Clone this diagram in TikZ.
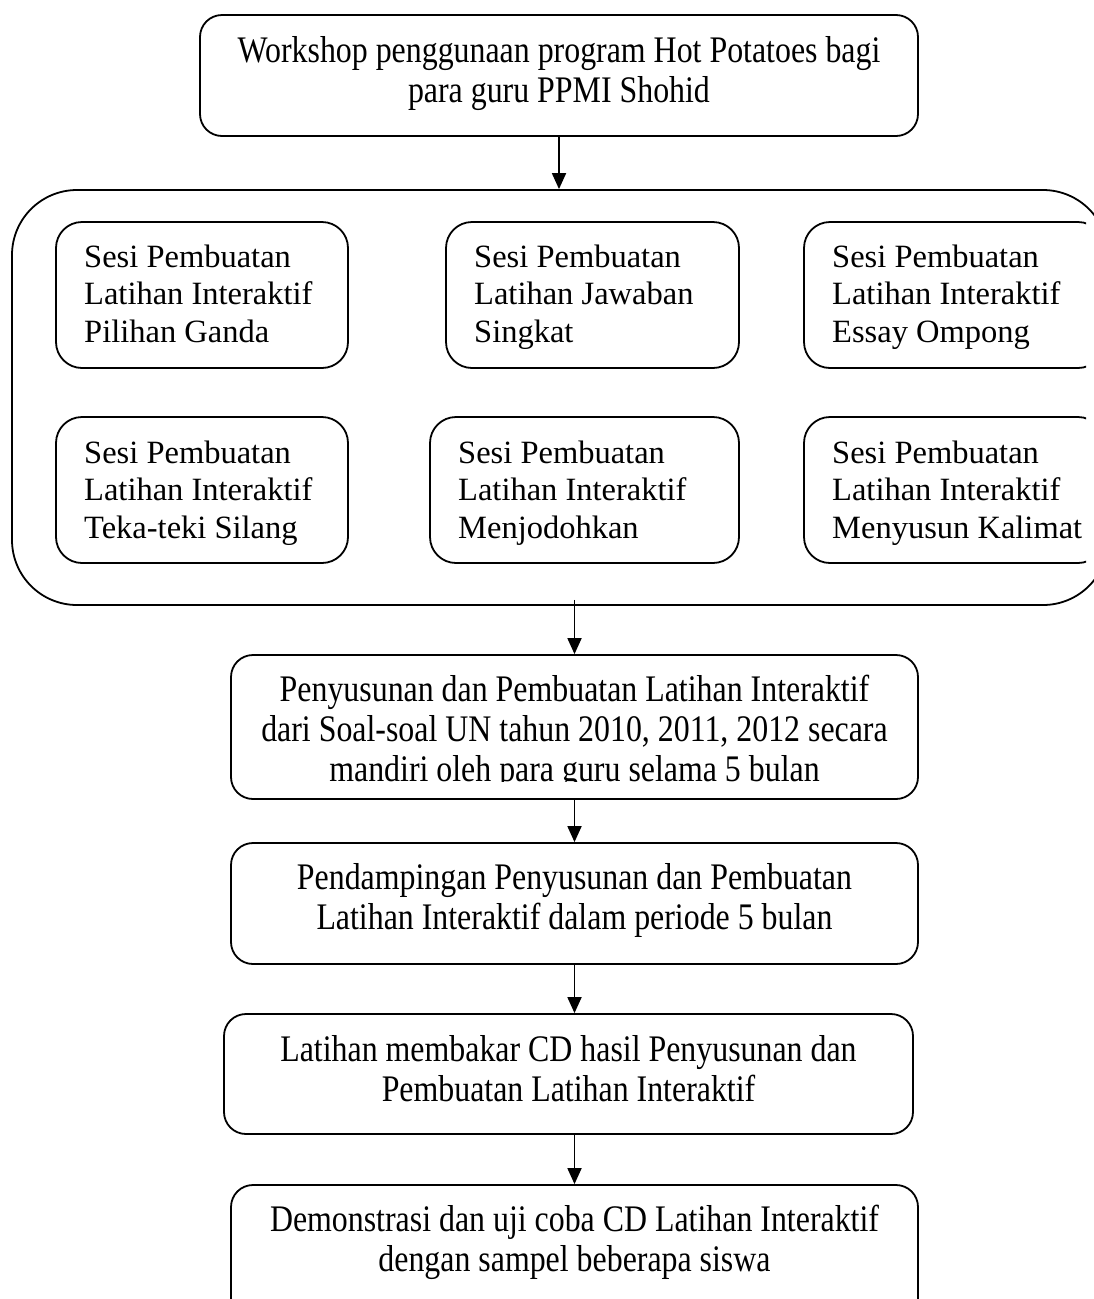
\documentclass[tikz,border=0pt]{standalone}
\usepackage{fontspec}
\setmainfont{Liberation Serif}
\newfontfamily\outerfont[FakeStretch=0.85]{Liberation Serif}
\usetikzlibrary{arrows.meta,calc}
\tikzset{
  stepbox/.style={draw, line width=1.8pt, rounded corners=22pt, inner sep=0pt},
  subbox/.style={draw, line width=1.8pt, rounded corners=26pt, inner sep=0pt},
  groupbox/.style={draw, line width=1.8pt, rounded corners=65pt, inner sep=0pt},
  steptext/.style={anchor=north, inner sep=0pt, align=center, font=\outerfont\fontsize{37.5}{40}\selectfont},
  subtext/.style={anchor=north west, inner sep=0pt, align=left, font=\fontsize{32.5}{37.5}\selectfont},
  flow/.style={line width=1.8pt, -{Triangle[width=14pt,length=16pt]}}
}
\begin{document}
\begin{tikzpicture}[x=1pt,y=-1pt]
\useasboundingbox (0,0) rectangle (1094,1299);
\clip (0,0) rectangle (1094,1299);

% top box
\node[stepbox, minimum width=718pt, minimum height=121pt] (b1) at (559,75.5) {};
\node[steptext] (t1) at (559,34) {\strut Workshop penggunaan program Hot Potatoes bagi\\para guru PPMI Shohid};

% group container
\node[groupbox, minimum width=1096pt, minimum height=415pt] (grp) at (560,397.5) {};

% inner boxes
\node[subbox, minimum width=292pt, minimum height=146pt] (sA) at (202,295) {};
\node[subbox, minimum width=293pt, minimum height=146pt] (sB) at (592.5,295) {};
\node[subbox, minimum width=292pt, minimum height=146pt] (sD) at (202,490) {};
\node[subbox, minimum width=309pt, minimum height=146pt] (sE) at (584.5,490) {};
\begin{scope}
  \clip (0,0) rectangle (1086,1299);
  \node[subbox, minimum width=300pt, minimum height=146pt] (sC) at (954,295) {};
  \node[subbox, minimum width=300pt, minimum height=146pt] (sF) at (954,490) {};
\end{scope}

\node[subtext] (tA) at (84,240.75) {\strut Sesi Pembuatan\\Latihan Interaktif\\Pilihan Ganda};
\node[subtext] (tB) at (474,240.75) {\strut Sesi Pembuatan\\Latihan Jawaban\\Singkat};
\node[subtext] (tC) at (832,240.75) {\strut Sesi Pembuatan\\Latihan Interaktif\\Essay Ompong};
\node[subtext] (tD) at (84,436.75) {\strut Sesi Pembuatan\\Latihan Interaktif\\Teka-teki Silang};
\node[subtext] (tE) at (458,436.75) {\strut Sesi Pembuatan\\Latihan Interaktif\\Menjodohkan};
\node[subtext] (tF) at (832,436.75) {\strut Sesi Pembuatan\\Latihan Interaktif\\Menyusun Kalimat};

% step 3
\node[stepbox, minimum width=687pt, minimum height=144pt] (b3) at (574.5,727) {};
\begin{scope}
  \clip (231,655) rectangle (918,781);
  \node[steptext] (t3) at (574.5,673) {\strut Penyusunan dan Pembuatan Latihan Interaktif\\dari Soal-soal UN tahun 2010, 2011, 2012 secara\\mandiri oleh para guru selama 5 bulan};
\end{scope}

% step 4
\node[stepbox, minimum width=687pt, minimum height=121pt] (b4) at (574.5,903.5) {};
\node[steptext] (t4) at (574.5,861) {\strut Pendampingan Penyusunan dan Pembuatan\\Latihan Interaktif dalam periode 5 bulan};

% step 5
\node[stepbox, minimum width=689pt, minimum height=120pt] (b5) at (568.5,1074) {};
\node[steptext] (t5) at (568.5,1033) {\strut Latihan membakar CD hasil Penyusunan dan\\Pembuatan Latihan Interaktif};

% step 6
\node[stepbox, minimum width=687pt, minimum height=135pt] (b6) at (574.5,1252.5) {};
\node[steptext] (t6) at (574.5,1203) {\strut Demonstrasi dan uji coba CD Latihan Interaktif\\dengan sampel beberapa siswa};

% connectors
\draw[flow] (b1.south) -- (b1.south |- grp.north);
\draw[flow] ([yshift=6pt]grp.south -| b3.north) -- (b3.north);
\draw[flow] (b3.south) -- (b4.north);
\draw[flow] (b4.south) -- (b4.south |- b5.north);
\draw[flow] (b5.south -| b6.north) -- (b6.north);
\end{tikzpicture}
\end{document}
